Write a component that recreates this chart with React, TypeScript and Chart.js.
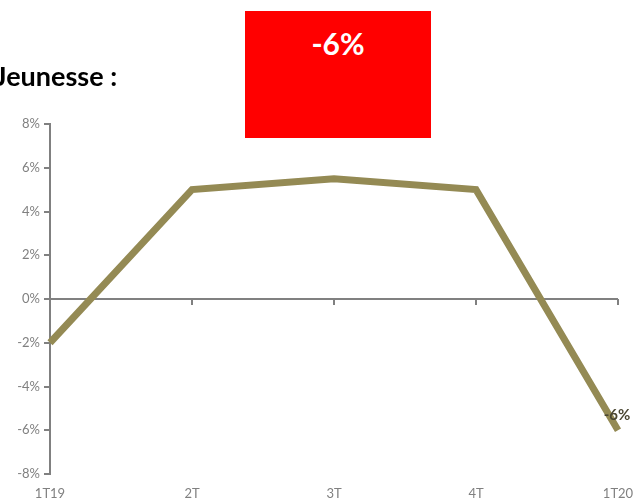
import React, { useEffect, useRef } from "react";
import { Chart, registerables } from "chart.js";

Chart.register(...registerables);

const categories = ["1T19", "2T", "3T", "4T", "1T20"];
const values = [-2, 5, 5.5, 5, -6];
const yMin = -8;
const yMax = 8;
const yStep = 2;
const titleText = "Jeunesse :";
const badgeText = "-6%";
const lastLabel = "-6%";

const GRAY = "#808080";
const LINE = "#948A54";

const zeroTicksPlugin = {
  id: "zeroTicks",
  afterDatasetsDraw(chart: any) {
    const x = chart.scales.x;
    const y = chart.scales.y;
    const ctx = chart.ctx;
    const y0 = y.getPixelForValue(0);
    ctx.save();
    ctx.strokeStyle = GRAY;
    ctx.lineWidth = 2;
    for (let i = 1; i < categories.length; i++) {
      const px = x.getPixelForValue(i);
      ctx.beginPath();
      ctx.moveTo(px, y0);
      ctx.lineTo(px, y0 + 6);
      ctx.stroke();
    }
    const meta = chart.getDatasetMeta(0);
    const pt = meta.data[meta.data.length - 1];
    ctx.font = "bold 15px Lato";
    ctx.fillStyle = "#4a4631";
    ctx.textAlign = "center";
    ctx.textBaseline = "middle";
    ctx.fillText(lastLabel, pt.x - 1, pt.y - 15);
    ctx.restore();
  },
};

export default function App() {
  const ref = useRef<HTMLCanvasElement>(null);
  useEffect(() => {
    if (!ref.current) return;
    const chart = new Chart(ref.current, {
      type: "line",
      data: {
        labels: categories,
        datasets: [
          {
            data: values,
            borderColor: LINE,
            borderWidth: 7,
            pointRadius: 0,
            tension: 0,
            fill: false,
          },
        ],
      },
      options: {
        animation: false,
        responsive: false,
        maintainAspectRatio: false,
        layout: { padding: { top: 124, right: 16, left: 0, bottom: 0 } },
        plugins: { legend: { display: false }, tooltip: { enabled: false } },
        scales: {
          x: {
            type: "category",
            offset: false,
            grid: { display: false, drawTicks: false },
            border: { display: false },
            ticks: { color: GRAY, font: { family: "Lato", size: 13 }, padding: 12, maxRotation: 0, autoSkip: false },
            afterFit: (s: any) => {
              s.height = 28;
              s.paddingRight = 0;
              s.paddingLeft = 0;
            },
          },
          y: {
            min: yMin,
            max: yMax,
            grid: {
              drawOnChartArea: true,
              color: (c: any) => (c.tick && c.tick.value === 0 ? GRAY : "rgba(0,0,0,0)"),
              tickColor: GRAY,
              tickLength: 6,
              lineWidth: 2,
            },
            border: { display: true, color: GRAY, width: 2 },
            ticks: {
              stepSize: yStep,
              color: GRAY,
              font: { family: "Lato", size: 13 },
              padding: 4,
              callback: (v: any) => v + "%",
            },
            afterFit: (s: any) => { s.width = 50; },
          },
        },
      },
      plugins: [zeroTicksPlugin],
    });
    return () => chart.destroy();
  }, []);
  return (
    <div style={{ position: "fixed", left: 0, top: 0, width: 634, height: 502, background: "#fff", overflow: "hidden" }}>
      <canvas ref={ref} width={634} height={502} style={{ position: "absolute", left: 0, top: 0 }} />
      <div
        style={{
          position: "absolute",
          left: -5,
          top: 59,
          fontFamily: "Lato",
          fontWeight: "bold",
          fontSize: 27,
          color: "#000",
          whiteSpace: "nowrap",
        }}
      >
        {titleText}
      </div>
      <div
        style={{
          position: "absolute",
          left: 245,
          top: 11,
          width: 186,
          height: 127,
          background: "#ff0000",
          color: "#fff",
          fontFamily: "Lato",
          fontWeight: "bold",
          fontSize: 30,
          textAlign: "center",
          boxSizing: "border-box",
          paddingTop: 14,
        }}
      >
        {badgeText}
      </div>
    </div>
  );
}
